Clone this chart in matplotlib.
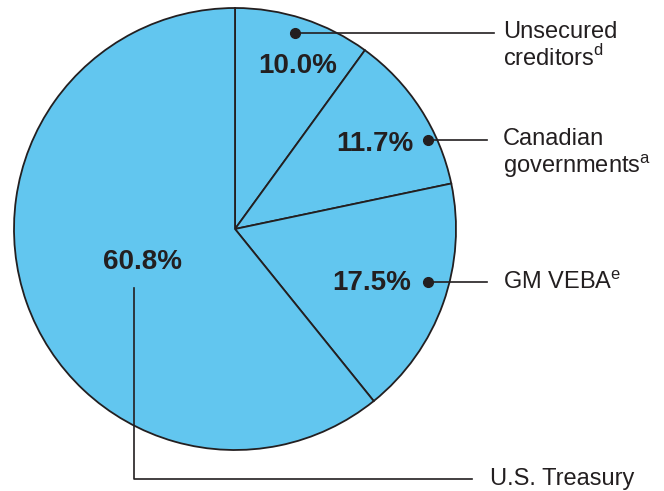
import matplotlib.pyplot as plt

plt.rcParams['font.family'] = ['Liberation Sans', 'DejaVu Sans']
plt.rcParams['mathtext.fontset'] = 'custom'
plt.rcParams['mathtext.rm'] = 'Liberation Sans'

shares = [10.0, 11.7, 17.5, 60.8]
names = ['Unsecured\ncreditors$^{\\mathrm{d}}$', 'Canadian\ngovernments$^{\\mathrm{a}}$',
         'GM VEBA$^{\\mathrm{e}}$', 'U.S. Treasury']

W, H = 664, 491
fig = plt.figure(figsize=(W / 100, H / 100), dpi=100)
ax = fig.add_axes([0, 0, 1, 1])
ax.set_aspect('equal')
ax.axis('off')

ink = '#231f20'
cx, cy, r = 235, H - 229, 221
ax.pie(shares, center=(cx, cy), radius=r, startangle=90, counterclock=False,
       colors=['#62c6ef'] * 4, wedgeprops=dict(edgecolor=ink, linewidth=1.3))
ax.set_xlim(0, W)
ax.set_ylim(0, H)

# percentage labels (pixel positions)
pct_pos = [(298, 66), (375, 144), (372, 283), (142, 262)]
for v, (px, py) in zip(shares, pct_pos):
    ax.text(px, H - py, f'{v:.1f}%', ha='center', va='center',
            fontsize=20, fontweight='bold', color=ink)

# leader lines
dots = [(295, 33), (428, 140), (428, 282)]
ends = [494, 487, 487]
lab_y = [46, 154, 283]
for (px, py), ex, ly, name in zip(dots, ends, lab_y, names[:3]):
    ax.plot([px], [H - py], 'o', color=ink, markersize=7)
    ax.plot([px, ex], [H - py, H - py], color=ink, linewidth=1.2)
    ax.text(503, H - ly, name, ha='left', va='center', fontsize=17,
            color=ink, linespacing=1.12)

ax.plot([134, 134, 472], [H - 288, H - 479, H - 479], color=ink, linewidth=1.2)
ax.text(490, H - 479, names[3], ha='left', va='center', fontsize=17, color=ink)

fig.savefig('out.png', dpi=100, facecolor='white')
